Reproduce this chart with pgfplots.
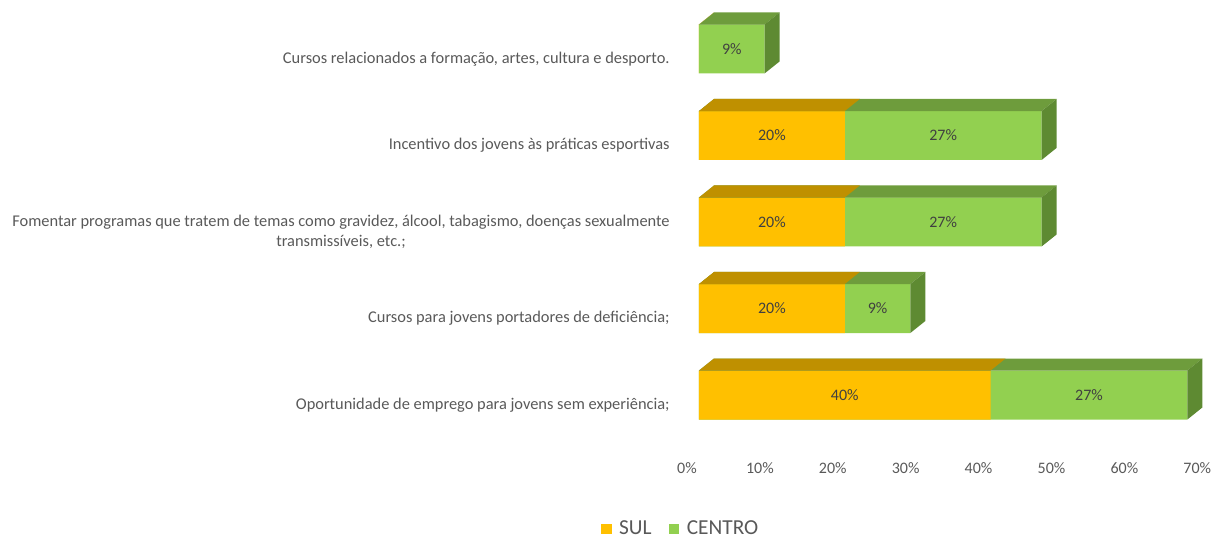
\documentclass[border=0pt]{standalone}
\usepackage{pgfplots}
\usepackage{pgfplotstable}
\pgfplotsset{compat=1.18}
\usepackage{fontspec}
\setmainfont{Carlito}
\definecolor{gold}{HTML}{FFC000}
\definecolor{topgold}{HTML}{BF9000}
\definecolor{green}{HTML}{92D050}
\definecolor{topgreen}{HTML}{6E9C3C}
\definecolor{sidegreen}{HTML}{5E8A32}
\definecolor{lbl}{HTML}{404040}
\definecolor{axlbl}{HTML}{595959}
\pgfplotstableread{
y sul centro
0 40 27
1 20 9
2 20 27
3 20 27
4 0 9
}\datatable
\begin{document}
\begin{tikzpicture}
\useasboundingbox (-524.25pt,-74.8pt) rectangle (390.75pt,328.7pt);
\begin{axis}[
  at={(0,0)}, anchor=south west,
  scale only axis, width=382.7pt, height=324.4pt,
  xmin=0, xmax=70, ymin=-0.5, ymax=4.5,
  clip=false,
  /pgf/number format/assume math mode=true,
  axis line style={draw=none},
  major tick length=0pt,
  xtick={0,10,...,70},
  xticklabel={\pgfmathprintnumber{\tick}\%},
  xticklabel style={font=\fontsize{12}{14}\selectfont, text=axlbl, anchor=center, yshift=-22.5pt, xshift=-9pt},
  ytick={0,1,2,3,4},
  yticklabels={
    {Oportunidade de emprego para jovens sem experiência;},
    {Cursos para jovens portadores de deficiência;},
    {Fomentar programas que tratem de temas como gravidez, álcool, tabagismo, doenças sexualmente\\transmissíveis, etc.;},
    {Incentivo dos jovens às práticas esportivas},
    {Cursos relacionados a formação, artes, cultura e desporto.}
  },
  yticklabel style={font=\fontsize{12.3}{14.5}\selectfont, text=axlbl, align=center, anchor=east, xshift=-18.5pt, yshift=-7.5pt},
  legend style={draw=none, at={(-0.035,-0.209)}, anchor=center, legend columns=2,
    font=\fontsize{16}{18}\selectfont, text=axlbl,
    /tikz/every odd column/.append style={column sep=4pt},
    /tikz/every even column/.append style={column sep=11pt}},
]
% front faces
\addplot[xbar, bar shift=0pt, bar width=36.75pt, fill=green, draw=none, forget plot]
  table[x expr=\thisrow{sul}+\thisrow{centro}, y=y]{\datatable};
\addplot[xbar, bar shift=0pt, bar width=36.75pt, fill=gold, draw=none, forget plot]
  table[x=sul, y=y]{\datatable};
% 3D faces
\pgfplotsforeachungrouped \i in {0,...,4}{%
  \pgfplotstablegetelem{\i}{sul}\of\datatable \pgfmathsetmacro\s{\pgfplotsretval}%
  \pgfplotstablegetelem{\i}{centro}\of\datatable \pgfmathsetmacro\c{\pgfplotsretval}%
  \pgfmathsetmacro\t{\s+\c}%
  \pgfmathsetmacro\ya{\i+0.283}%
  \pgfmathsetmacro\yb{\i+0.283+0.139}%
  \pgfmathsetmacro\yc{\i-0.283}%
  \pgfmathsetmacro\yd{\i-0.283+0.139}%
  \pgfmathsetmacro\sd{\s+2.06}%
  \pgfmathsetmacro\td{\t+2.06}%
  \edef\cmd{%
    \noexpand\addplot[fill=topgreen, draw=none, forget plot] coordinates {(0,\ya) (\t,\ya) (\td,\yb) (2.06,\yb)};
    \noexpand\addplot[fill=sidegreen, draw=none, forget plot] coordinates {(\t,\yc) (\t,\ya) (\td,\yb) (\td,\yd)};
    \noexpand\addplot[fill=topgold, draw=none, forget plot] coordinates {(0,\ya) (\s,\ya) (\sd,\yb) (2.06,\yb)};
  }\cmd
}
% data labels
\addplot[draw=none, mark=none, forget plot, point meta=explicit,
  nodes near coords={\pgfmathfloatifflags{\pgfplotspointmeta}{0}{}{\pgfmathprintnumber{\pgfplotspointmeta}\%}},
  every node near coord/.append style={anchor=center, font=\fontsize{12}{14}\selectfont, text=lbl}]
  table[x expr=\thisrow{sul}/2, y=y, meta=sul]{\datatable};
\addplot[draw=none, mark=none, forget plot, point meta=explicit,
  nodes near coords={\pgfmathprintnumber{\pgfplotspointmeta}\%},
  every node near coord/.append style={anchor=center, font=\fontsize{12}{14}\selectfont, text=lbl}]
  table[x expr=\thisrow{sul}+\thisrow{centro}/2, y=y, meta=centro]{\datatable};
% legend
\addlegendimage{legend image code/.code={\fill[gold] (0pt,-3.5pt) rectangle (7pt,3.5pt);}}
\addlegendentry{SUL}
\addlegendimage{legend image code/.code={\fill[green] (0pt,-3.5pt) rectangle (7pt,3.5pt);}}
\addlegendentry{CENTRO}
\end{axis}
\end{tikzpicture}
\end{document}
